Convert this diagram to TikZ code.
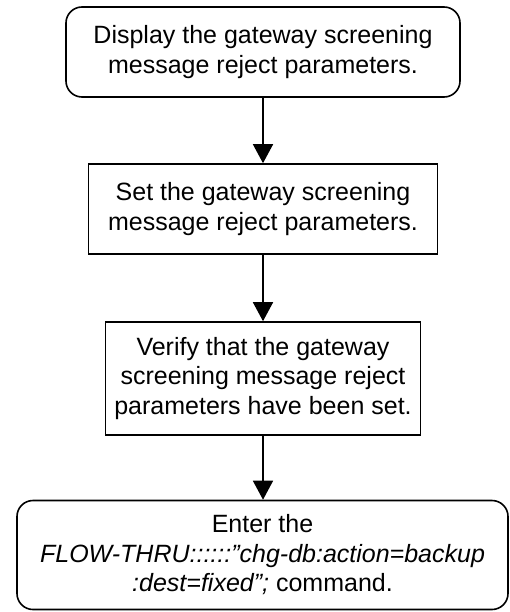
\documentclass[tikz,border=0pt]{standalone}
\usepackage{fontspec}
\setmainfont{Liberation Sans}
\usetikzlibrary{arrows.meta}
\begin{document}
\begin{tikzpicture}[x=1pt,y=-1pt,
  every node/.style={font=\fontsize{25}{29.5}\selectfont, align=center, inner sep=0pt},
  termbox/.style={draw, line width=1.6pt, rounded corners=16pt},
  procbox/.style={draw, line width=1.6pt},
  flow/.style={line width=1.6pt, -{Triangle[length=19pt,width=20pt]}}]
\useasboundingbox (0,0) rectangle (509,612);
\node[termbox, minimum width=394pt, minimum height=90pt] (a) at (263,52)
  {Display the gateway screening\\message reject parameters.};
\node[procbox, minimum width=349pt, minimum height=90pt] (b) at (263,209)
  {Set the gateway screening\\message reject parameters.};
\node[procbox, minimum width=315pt, minimum height=113pt] (c) at (263,378.5)
  {Verify that the gateway\\screening message reject\\parameters have been set.};
\node[termbox, minimum width=491pt, minimum height=109pt] (d) at (262.5,555)
  {Enter the\\\textit{FLOW-THRU::::::\symbol{"22}chg-db:action=backup}\\\textit{:dest=fixed\symbol{"22};} command.};
\draw[flow] (a.south) -- (b.north);
\draw[flow] (b.south) -- (c.north);
\draw[flow] (c.south) -- (d.north -| c.south);
\end{tikzpicture}
\end{document}
